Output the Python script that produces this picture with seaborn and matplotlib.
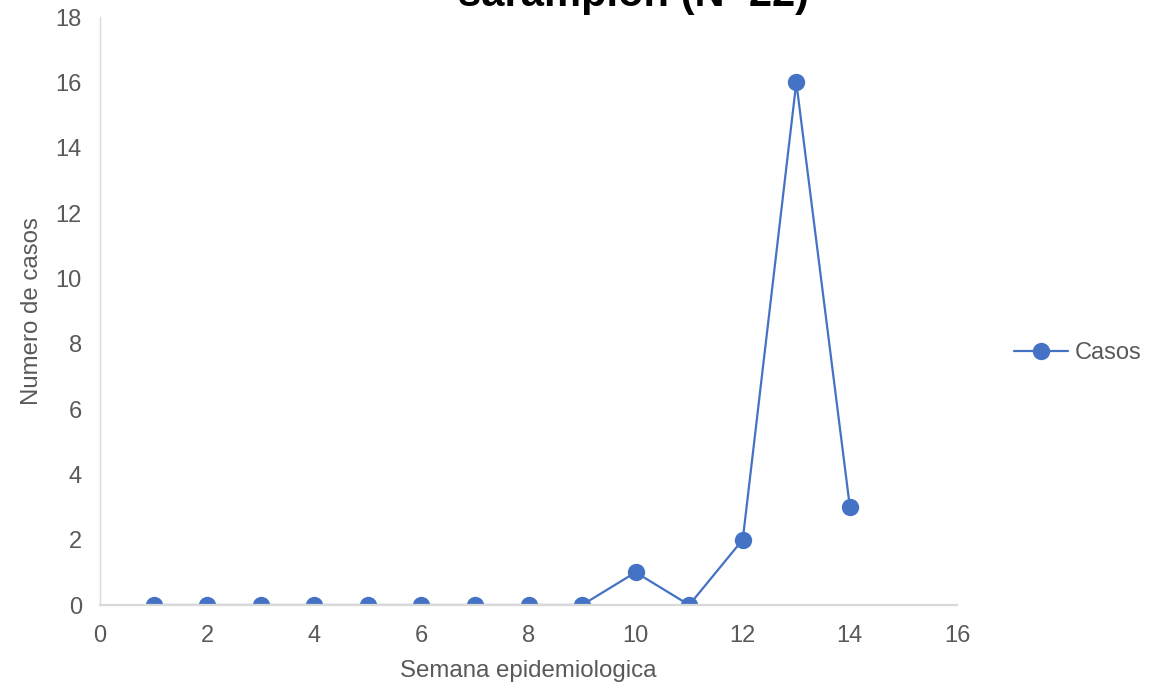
import matplotlib
matplotlib.use("Agg")
import matplotlib.pyplot as plt
import seaborn as sns
import pandas as pd

semanas = [1, 2, 3, 4, 5, 6, 7, 8, 9, 10, 11, 12, 13, 14]
casos = [0, 0, 0, 0, 0, 0, 0, 0, 0, 1, 0, 2, 16, 3]
x_ticks = [0, 2, 4, 6, 8, 10, 12, 14, 16]
y_ticks = [0, 2, 4, 6, 8, 10, 12, 14, 16, 18]

df = pd.DataFrame({"Semana": semanas, "Casos": casos})

sns.set_theme(style="white")
plt.rcParams["font.family"] = ["Liberation Sans", "DejaVu Sans"]

fig = plt.figure(figsize=(11.65, 6.84), dpi=100)
ax = fig.add_axes([100 / 1165, 1 - 605 / 684, 857 / 1165, 588 / 684])

color = "#4472C4"
sns.lineplot(data=df, x="Semana", y="Casos", ax=ax, color=color, lw=1.6,
             marker="o", markersize=12.5, markeredgewidth=0, label="Casos")

ax.set_xlim(0, 16)
ax.set_ylim(0, 18)
ax.set_xticks(x_ticks)
ax.set_yticks(y_ticks)
ax.tick_params(axis="both", length=0, labelsize=17, labelcolor="#595959")
ax.tick_params(axis="x", pad=14.5)
ax.tick_params(axis="y", pad=13)
ax.set_xlabel("Semana epidemiologica", fontsize=17.3, color="#595959", labelpad=9)
ax.set_ylabel("Numero de casos", fontsize=17.3, color="#595959", labelpad=9)

for side in ("top", "right"):
    ax.spines[side].set_visible(False)
ax.spines["left"].set_color("#d9d9d9")
ax.spines["left"].set_linewidth(1.0)
ax.spines["bottom"].set_color("#d9d9d9")
ax.spines["bottom"].set_linewidth(1.6)
ax.set_facecolor("none")
ax.grid(False)

ax.legend(loc="center left", bbox_to_anchor=(1005 / 1165, 1 - 353 / 684),
          bbox_transform=fig.transFigure, frameon=False,
          fontsize=17, labelcolor="#595959", handlelength=2.25,
          handletextpad=0.3, borderaxespad=0)

fig.text(633 / 1165, 1 - 6 / 684, "sarampion (N=22)", ha="center",
         va="baseline", fontsize=30, fontweight="bold", color="black")

fig.savefig("out.png", dpi=100, facecolor="white")
